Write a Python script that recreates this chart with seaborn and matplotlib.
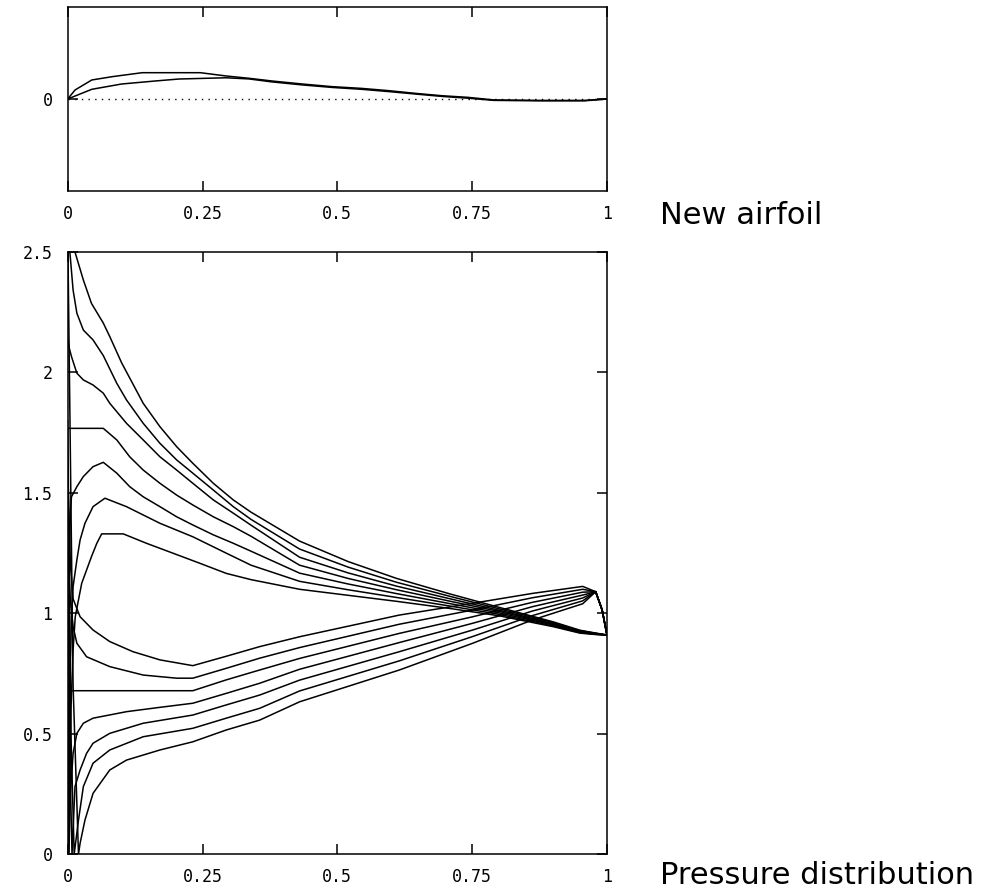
import matplotlib
matplotlib.use("Agg")
import pandas as pd
import matplotlib.pyplot as plt
import seaborn as sns

# ---- top panel: new airfoil ----
foil_a_x = [0.0, 0.0136, 0.0446, 0.082, 0.138, 0.246, 0.293, 0.336, 0.379, 0.435, 0.491,
            0.545, 0.596, 0.647, 0.695, 0.742, 0.79, 0.878, 0.958, 1.0]
foil_a_y = [0.0, 0.0195, 0.0412, 0.0483, 0.057, 0.057, 0.050, 0.0449, 0.039, 0.0325, 0.0267,
            0.023, 0.018, 0.012, 0.007, 0.0036, -0.002, -0.003, -0.003, 0.0]
foil_b_x = [0.0, 0.0446, 0.1, 0.162, 0.206, 0.293, 0.336, 0.379, 0.435, 0.491,
            0.545, 0.596, 0.647, 0.695, 0.742, 0.79, 0.878, 0.958, 1.0]
foil_b_y = [0.0, 0.021, 0.0325, 0.039, 0.0433, 0.046, 0.0435, 0.037, 0.0305, 0.025,
            0.021, 0.016, 0.0105, 0.0055, 0.0018, -0.003, -0.004, -0.004, 0.0]

# ---- bottom panel: pressure distribution ----
# upper-surface curves: leading-edge part + shared trailing part
up_tail_x = [0.34, 0.43, 0.52, 0.61, 0.71, 0.80, 0.90, 0.95, 0.98, 1.0]

u1_x = [0.0, 0.0135, 0.029, 0.044, 0.066, 0.078, 0.10, 0.14, 0.171, 0.202, 0.232, 0.27, 0.307]
u1_y = [3.2, 2.50, 2.384, 2.287, 2.205, 2.149, 2.04, 1.872, 1.775, 1.692, 1.623, 1.54, 1.471]
u1_tail = [1.42, 1.30, 1.215, 1.145, 1.08, 1.025, 0.965, 0.93, 0.918, 0.91]

u2_x = [0.0, 0.004, 0.010, 0.017, 0.029, 0.047, 0.066, 0.091, 0.109, 0.14, 0.171, 0.202, 0.232, 0.27, 0.307]
u2_y = [2.9, 2.5, 2.342, 2.246, 2.176, 2.135, 2.07, 1.955, 1.886, 1.789, 1.706, 1.637, 1.582, 1.512, 1.443]
u2_tail = [1.39, 1.267, 1.192, 1.129, 1.07, 1.019, 0.962, 0.928, 0.917, 0.91]

u3_x = [0.0, 0.003, 0.007, 0.017, 0.029, 0.047, 0.066, 0.078, 0.109, 0.14, 0.171, 0.202, 0.232, 0.27, 0.307]
u3_y = [2.14, 2.10, 2.066, 1.997, 1.969, 1.948, 1.914, 1.872, 1.789, 1.72, 1.65, 1.595, 1.54, 1.471, 1.416]
u3_tail = [1.366, 1.233, 1.168, 1.113, 1.06, 1.013, 0.958, 0.926, 0.916, 0.91]

u4_x = [0.0, 0.066, 0.091, 0.115, 0.14, 0.171, 0.202, 0.232, 0.27, 0.307]
u4_y = [1.768, 1.768, 1.72, 1.65, 1.595, 1.54, 1.491, 1.45, 1.401, 1.36]
u4_tail = [1.32, 1.20, 1.145, 1.098, 1.05, 1.008, 0.955, 0.924, 0.915, 0.91]

u5_x = [0.0015, 0.003, 0.005, 0.007, 0.017, 0.029, 0.047, 0.066, 0.091, 0.115, 0.14, 0.171, 0.202, 0.232, 0.27, 0.307]
u5_y = [0.0, 1.2, 1.42, 1.484, 1.526, 1.568, 1.609, 1.627, 1.582, 1.526, 1.484, 1.443, 1.401, 1.367, 1.326, 1.291]
u5_tail = [1.258, 1.167, 1.122, 1.082, 1.04, 1.002, 0.952, 0.922, 0.914, 0.91]

u6_x = [0.001, 0.004, 0.007, 0.010, 0.017, 0.023, 0.032, 0.047, 0.069, 0.109, 0.171, 0.232, 0.294]
u6_y = [0.0, 0.7, 0.98, 1.111, 1.222, 1.305, 1.374, 1.443, 1.478, 1.443, 1.374, 1.318, 1.25]
u6_tail = [1.20, 1.133, 1.098, 1.066, 1.03, 0.996, 0.948, 0.92, 0.913, 0.91]

u7_x = [0.002, 0.006, 0.010, 0.014, 0.020, 0.026, 0.035, 0.044, 0.054, 0.063, 0.103, 0.146, 0.195, 0.245, 0.294]
u7_y = [0.0, 0.6, 0.85, 0.986, 1.056, 1.125, 1.18, 1.235, 1.291, 1.33, 1.33, 1.291, 1.25, 1.208, 1.166]
u7_tail = [1.14, 1.10, 1.075, 1.05, 1.02, 0.99, 0.945, 0.918, 0.912, 0.91]

# lower-surface curves
lo_tail_x = [0.232, 0.294, 0.356, 0.43, 0.615, 0.751, 0.862, 0.955, 0.979, 0.991, 1.0]

la_x = [0.0, 0.005, 0.010, 0.023, 0.047, 0.078, 0.121, 0.171]
la_y = [1.6, 1.2, 1.06, 0.986, 0.931, 0.883, 0.841, 0.807]
la_tail = [0.783, 0.822, 0.862, 0.903, 0.993, 1.042, 1.083, 1.112, 1.09, 1.014, 0.91]

lb_x = [0.0, 0.005, 0.010, 0.017, 0.035, 0.078, 0.140, 0.202]
lb_y = [1.3, 1.05, 0.945, 0.876, 0.820, 0.779, 0.744, 0.731]
lb_tail = [0.731, 0.772, 0.814, 0.858, 0.955, 1.014, 1.065, 1.100, 1.09, 1.014, 0.91]

lc_x = [0.0]
lc_y = [0.679]
lc_tail = [0.679, 0.724, 0.765, 0.813, 0.917, 0.986, 1.046, 1.088, 1.09, 1.014, 0.91]

ld_x = [0.0, 0.002, 0.005, 0.010, 0.017, 0.029, 0.047, 0.109, 0.171]
ld_y = [0.6, 0.0, 0.25, 0.419, 0.502, 0.544, 0.565, 0.592, 0.610]
ld_tail = [0.627, 0.668, 0.710, 0.768, 0.879, 0.959, 1.028, 1.076, 1.09, 1.014, 0.91]

le_x = [0.0, 0.004, 0.008, 0.0135, 0.023, 0.035, 0.047, 0.078, 0.140]
le_y = [1.2, 0.4, 0.0, 0.281, 0.350, 0.419, 0.461, 0.502, 0.544]
le_tail = [0.578, 0.620, 0.661, 0.723, 0.841, 0.931, 1.01, 1.064, 1.09, 1.014, 0.91]

lf_x = [0.0, 0.006, 0.012, 0.020, 0.029, 0.047, 0.078, 0.140]
lf_y = [1.8, 0.5, 0.0, 0.142, 0.281, 0.378, 0.433, 0.488]
lf_tail = [0.523, 0.565, 0.606, 0.678, 0.803, 0.904, 0.991, 1.052, 1.09, 1.014, 0.91]

lg_x = [0.0, 0.010, 0.020, 0.023, 0.032, 0.047, 0.078, 0.109, 0.171]
lg_y = [2.6, 0.7, 0.0, 0.046, 0.142, 0.253, 0.350, 0.391, 0.433]
lg_tail = [0.467, 0.516, 0.557, 0.633, 0.765, 0.876, 0.973, 1.040, 1.09, 1.014, 0.91]

x_ticks = [0, 0.25, 0.5, 0.75, 1]
x_labels = ["0", "0.25", "0.5", "0.75", "1"]
y_ticks = [0, 0.5, 1, 1.5, 2, 2.5]
y_labels = ["0", "0.5", "1", "1.5", "2", "2.5"]

# build long tables
foil = pd.concat([
    pd.DataFrame({"curve": "a", "x": foil_a_x, "y": foil_a_y}),
    pd.DataFrame({"curve": "b", "x": foil_b_x, "y": foil_b_y}),
])

parts = []
for name, hx, hy, tx, ty in [
    ("u1", u1_x, u1_y, up_tail_x, u1_tail), ("u2", u2_x, u2_y, up_tail_x, u2_tail),
    ("u3", u3_x, u3_y, up_tail_x, u3_tail), ("u4", u4_x, u4_y, up_tail_x, u4_tail),
    ("u5", u5_x, u5_y, up_tail_x, u5_tail), ("u6", u6_x, u6_y, up_tail_x, u6_tail),
    ("u7", u7_x, u7_y, up_tail_x, u7_tail),
    ("la", la_x, la_y, lo_tail_x, la_tail), ("lb", lb_x, lb_y, lo_tail_x, lb_tail),
    ("lc", lc_x, lc_y, lo_tail_x, lc_tail), ("ld", ld_x, ld_y, lo_tail_x, ld_tail),
    ("le", le_x, le_y, lo_tail_x, le_tail), ("lf", lf_x, lf_y, lo_tail_x, lf_tail),
    ("lg", lg_x, lg_y, lo_tail_x, lg_tail),
]:
    parts.append(pd.DataFrame({"curve": name, "x": hx + tx, "v": hy + ty}))
press = pd.concat(parts, ignore_index=True)

sns.set_style("white")
plt.rcParams["font.family"] = ["DejaVu Sans"]
plt.rcParams["text.color"] = "black"

fig = plt.figure(figsize=(9.93, 8.92), dpi=100)
W, H = 993.0, 892.0
ax1 = fig.add_axes([67.7 / W, 1 - 191.3 / H, (607 - 67.7) / W, (191.3 - 6.7) / H])
ax2 = fig.add_axes([67.7 / W, 1 - 854.3 / H, (607 - 67.7) / W, (854.3 - 252) / H])

ax1.axhline(0, color="black", lw=1.0, ls=(0, (1, 3.8)), zorder=1)
sns.lineplot(data=foil, x="x", y="y", units="curve", estimator=None, sort=False,
             color="black", lw=1.1, ax=ax1)
sns.lineplot(data=press, x="x", y="v", units="curve", estimator=None, sort=False,
             color="black", lw=1.1, ax=ax2)

ax1.set_xlim(0, 1)
ax1.set_ylim(-0.2, 0.2)
ax1.set_xticks(x_ticks)
ax1.set_xticklabels(x_labels)
ax1.set_yticks([0])
ax1.set_yticklabels(["0"])

ax2.set_xlim(0, 1)
ax2.set_ylim(0, 2.5)
ax2.set_xticks(x_ticks)
ax2.set_xticklabels(x_labels)
ax2.set_yticks(y_ticks)
ax2.set_yticklabels(y_labels)

for ax in (ax1, ax2):
    ax.set_xlabel("")
    ax.set_ylabel("")
    for s in ax.spines.values():
        s.set_visible(True)
        s.set_color("black")
        s.set_linewidth(1.1)
    ax.tick_params(direction="in", length=7.2, width=1.1, color="black",
                   top=True, right=True, bottom=True, left=True,
                   labelsize=12, labelcolor="black")
    ax.tick_params(axis="x", pad=10)
    ax.tick_params(axis="y", pad=11)
    for lab in ax.get_xticklabels() + ax.get_yticklabels():
        lab.set_family("DejaVu Sans Mono")

fig.text(660 / W, 1 - 215 / H, "New airfoil", fontsize=22, va="center", ha="left", color="black")
fig.text(660 / W, 1 - 875 / H, "Pressure distribution", fontsize=22, va="center", ha="left", color="black")

fig.savefig("out.png", dpi=100)
